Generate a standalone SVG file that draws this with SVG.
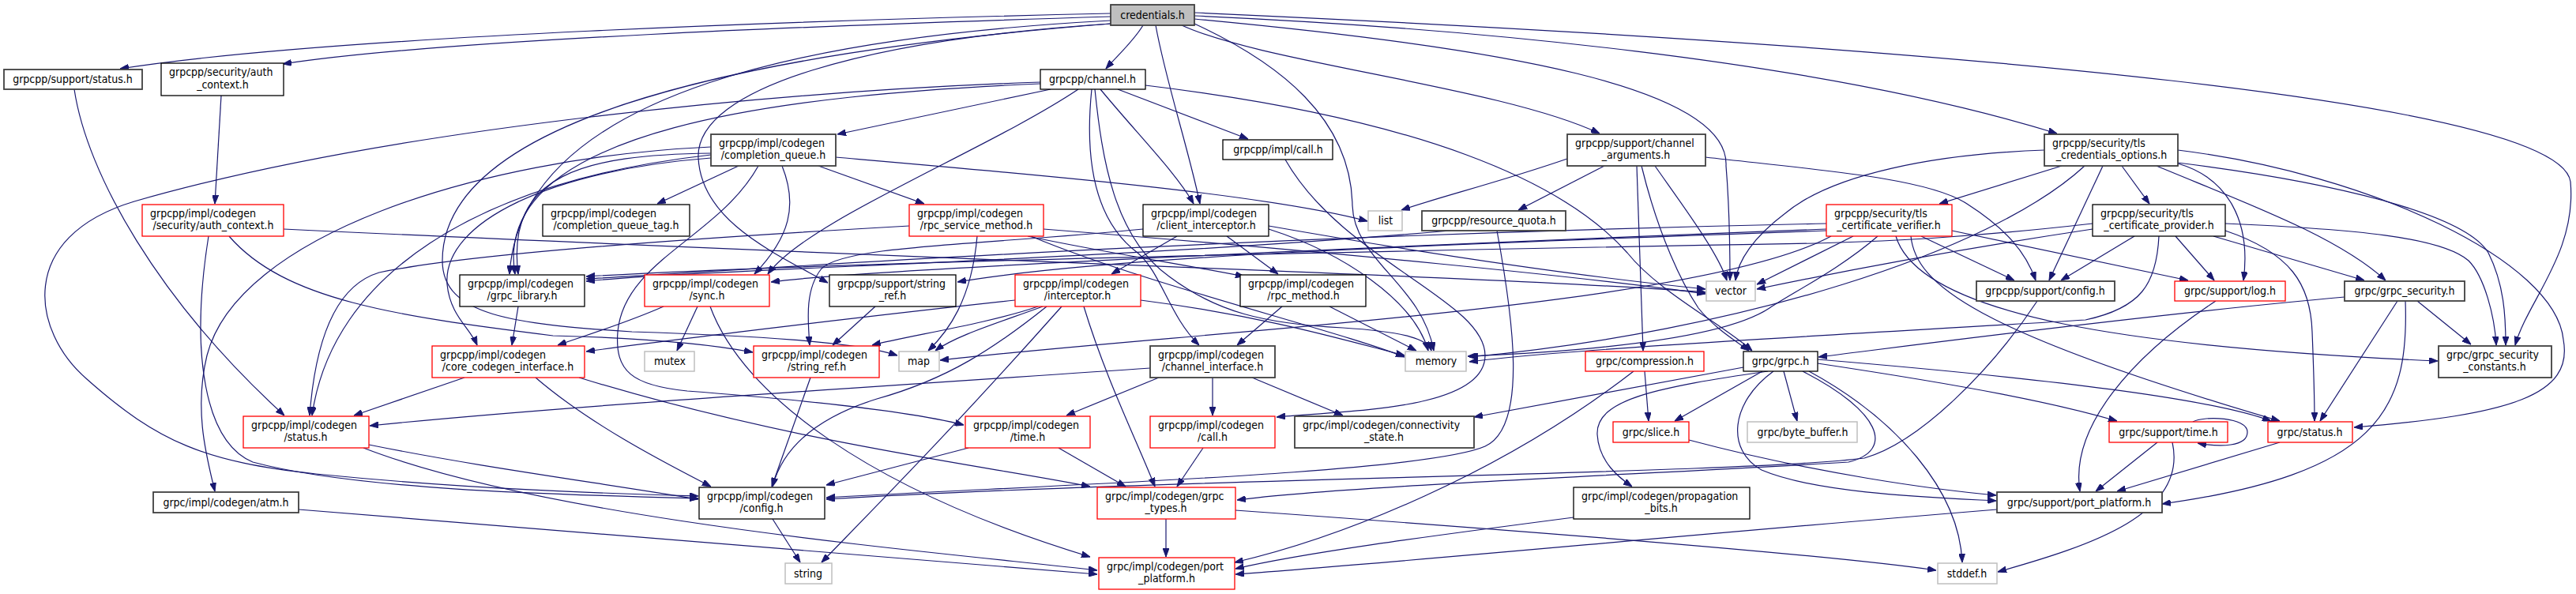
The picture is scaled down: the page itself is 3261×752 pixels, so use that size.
<svg xmlns="http://www.w3.org/2000/svg" width="3261" height="752" viewBox="0 0 3261 752">
<style>
text{font-family:"DejaVu Sans Condensed","Liberation Sans",sans-serif;font-size:14px;font-stretch:condensed;fill:#000}
.m{text-anchor:middle}
rect{fill:#fff;stroke-width:1.3}
.k rect{stroke:#000}
.g rect{stroke:#404040;stroke-width:1.8}
.r rect{stroke:#ff0000}
.l rect{stroke:#bfbfbf;stroke-width:1.5}
.root rect{fill:#bfbfbf;stroke:#404040;stroke-width:1.8}
#edges path{fill:none;stroke:#191970;stroke-width:1.2;marker-end:url(#ah)}
</style>
<defs>
<marker id="ah" markerUnits="userSpaceOnUse" markerWidth="11" markerHeight="8" refX="11" refY="4" orient="auto"><path d="M0,0 L11,4 L0,8 z" fill="#191970" stroke="#191970"/></marker>
</defs>
<rect x="0" y="0" width="3261" height="752" fill="#fff" stroke="none"/>
<g id="edges">
<path d="M1406,17 C1050,25 420,45 152,87"/>
<path d="M1406,21 C1050,32 560,50 358,81"/>
<path d="M1447,32 C1435,52 1415,70 1400,87"/>
<path d="M1463,32 C1475,100 1505,190 1519,258"/>
<path d="M1496,32 C1600,80 1900,110 2025,169"/>
<path d="M1512,20 C1850,35 2300,75 2604,169"/>
<path d="M1512,16 C2500,60 3240,130 3254,230 C3262,320 3200,380 3184,437"/>
<path d="M1406,26 C1050,45 660,110 645,347"/>
<path d="M1406,30 C900,70 560,160 560,330 C560,400 650,410 800,420 C950,425 1080,432 1136,450"/>
<path d="M1406,30 C1100,50 880,110 884,200 C888,280 980,320 1048,358"/>
<path d="M1512,30 C1620,80 1710,150 1712,260 C1714,330 1800,360 1815,444"/>
<path d="M1512,24 C1900,60 2190,110 2185,210 C2190,270 2190,320 2190,355"/>
<path d="M1330,113 L1060,170"/>
<path d="M1415,113 L1580,176"/>
<path d="M1393,113 C1440,170 1490,220 1511,258"/>
<path d="M1365,113 C1250,190 1020,280 972,347"/>
<path d="M1317,106 C1000,120 620,160 652,347"/>
<path d="M1317,104 C1000,115 500,160 170,255 C20,300 40,420 110,480 C200,560 260,585 400,600 C600,620 780,625 884,628"/>
<path d="M1382,113 C1370,230 1400,290 1440,320 C1470,345 1480,400 1518,437"/>
<path d="M1386,113 C1395,200 1410,300 1480,350 C1540,395 1600,410 1700,415 C1780,420 1808,430 1812,444"/>
<path d="M1450,108 C1800,150 1980,230 2060,320 C2100,370 2180,410 2218,444"/>
<path d="M935,210 L832,258"/>
<path d="M1036,210 L1170,258"/>
<path d="M1058,199 C1300,220 1600,245 1731,280"/>
<path d="M990,210 C1010,260 1000,300 955,347"/>
<path d="M900,194 C740,196 640,220 656,347"/>
<path d="M900,200 C700,215 560,280 566,360 C570,400 595,415 604,437"/>
<path d="M900,196 C600,230 420,350 395,526"/>
<path d="M900,186 C600,200 300,300 262,450 C245,520 262,580 272,622"/>
<path d="M960,210 C910,300 790,330 782,420 C778,470 800,488 870,495 C1000,505 1150,520 1220,538"/>
<path d="M1490,299 L1407,347"/>
<path d="M1553,299 L1618,347"/>
<path d="M1606,290 C1700,320 1790,380 1808,444"/>
<path d="M1606,286 C1800,320 2000,350 2159,366"/>
<path d="M1447,290 C1250,310 1070,310 1040,340 C1020,365 1022,400 1025,437"/>
<path d="M1237,299 C1230,380 1200,420 1175,444"/>
<path d="M1301,299 C1400,320 1500,335 1575,350"/>
<path d="M1305,299 C1450,360 1700,420 1778,452"/>
<path d="M1321,290 C1700,320 2000,350 2159,372"/>
<path d="M1151,286 C900,300 600,320 480,345 C430,360 400,420 392,526"/>
<path d="M1285,380 C1100,400 850,430 742,445"/>
<path d="M1314,388 C1250,410 1150,425 1104,437"/>
<path d="M1320,388 C1260,410 1210,425 1184,444"/>
<path d="M1325,388 C1260,440 1200,480 1110,505 C1030,530 990,570 978,616"/>
<path d="M1344,388 C1200,550 1100,650 1040,712"/>
<path d="M1372,388 C1400,480 1440,560 1462,616"/>
<path d="M1444,380 C1600,400 1700,430 1778,450"/>
<path d="M1683,388 L1793,444"/>
<path d="M1623,388 L1566,437"/>
<path d="M1467,478 L1350,526"/>
<path d="M1535,478 L1535,526"/>
<path d="M1585,478 L1700,526"/>
<path d="M1456,466 C1100,490 700,515 468,539"/>
<path d="M1226,567 L1046,614"/>
<path d="M1340,567 L1425,616"/>
<path d="M1523,567 L1490,616"/>
<path d="M1476,657 L1476,705"/>
<path d="M1564,646 C1900,670 2300,700 2451,722"/>
<path d="M978,657 L1013,712"/>
<path d="M467,563 C600,590 750,610 884,632"/>
<path d="M460,567 C700,660 1200,700 1389,722"/>
<path d="M378,645 C800,680 1200,710 1389,727"/>
<path d="M1992,655 C1800,680 1650,700 1564,720"/>
<path d="M2528,645 C2100,680 1800,710 1564,727"/>
<path d="M883,388 L857,444"/>
<path d="M840,388 C790,410 740,425 706,437"/>
<path d="M899,388 C940,500 1100,620 1380,705"/>
<path d="M656,388 L648,437"/>
<path d="M588,478 L448,526"/>
<path d="M678,478 C750,540 850,590 900,616"/>
<path d="M733,478 C1000,560 1250,590 1380,616"/>
<path d="M1108,388 L1054,437"/>
<path d="M1026,478 L977,616"/>
<path d="M359,290 C1200,330 1900,350 2159,370"/>
<path d="M264,299 C240,450 260,560 320,585 C450,620 700,626 884,631"/>
<path d="M290,299 C360,380 500,400 700,425 C820,428 900,436 953,446"/>
<path d="M94,113 C110,220 200,380 360,526"/>
<path d="M280,121 L272,258"/>
<path d="M1627,202 C1700,330 1880,380 1880,450 C1880,520 1700,520 1616,528"/>
<path d="M1984,201 C1900,230 1820,250 1774,266"/>
<path d="M2031,210 L1922,266"/>
<path d="M2072,210 L2080,444"/>
<path d="M2078,210 C2100,300 2130,360 2150,390 C2170,415 2195,430 2214,444"/>
<path d="M2095,210 C2130,260 2175,320 2186,355"/>
<path d="M2159,199 C2300,215 2440,225 2490,258 C2540,290 2565,320 2577,355"/>
<path d="M1836,292 C1400,330 900,340 742,356"/>
<path d="M1895,292 C1915,400 1935,540 1880,565 C1800,600 1300,615 1046,630"/>
<path d="M2082,470 L2087,533"/>
<path d="M2068,470 C1900,600 1700,680 1563,712"/>
<path d="M2207,465 L1866,528"/>
<path d="M2231,470 L2120,533"/>
<path d="M2238,470 C2100,490 2020,505 2022,550 C2024,585 2050,605 2066,616"/>
<path d="M2258,470 L2275,533"/>
<path d="M2282,470 C2380,520 2400,570 2340,585 C2100,600 1700,615 1566,633"/>
<path d="M2290,470 C2400,530 2480,620 2484,712"/>
<path d="M2301,460 C2500,490 2600,510 2680,533"/>
<path d="M2301,455 C2600,480 2800,505 2875,533"/>
<path d="M2245,470 C2190,510 2185,570 2230,595 C2300,625 2450,630 2527,634"/>
<path d="M2138,557 C2300,600 2450,620 2527,627"/>
<path d="M2968,376 C2700,400 2400,440 2302,452"/>
<path d="M3060,381 L3128,436"/>
<path d="M3035,381 L2937,533"/>
<path d="M3045,381 C3050,520 3010,600 2737,638"/>
<path d="M2805,381 C2700,450 2620,540 2633,622"/>
<path d="M2579,381 C2520,470 2430,560 2360,580 C2200,600 1500,605 1046,632"/>
<path d="M2731,560 L2653,622"/>
<path d="M2750,560 C2770,650 2650,690 2529,724"/>
<path d="M2776,534 C2790,526 2845,528 2845,547 C2845,566 2810,566 2782,561"/>
<path d="M2886,560 L2680,622"/>
<path d="M2610,210 L2455,258"/>
<path d="M2686,210 L2721,258"/>
<path d="M2662,210 L2594,355"/>
<path d="M2639,210 C2520,320 2200,420 1860,452"/>
<path d="M2588,190 C2450,195 2320,220 2260,270 C2220,300 2200,330 2197,355"/>
<path d="M2730,210 C2850,260 2960,300 3020,355"/>
<path d="M2757,207 C2820,225 2850,280 2840,355"/>
<path d="M2757,206 C2950,230 3120,270 3150,320 C3170,360 3172,400 3172,437"/>
<path d="M2757,190 C3000,220 3235,330 3245,430 C3258,500 3180,525 2980,541"/>
<path d="M2649,283 C2500,300 2400,305 2300,308 C1600,320 1000,335 742,350"/>
<path d="M2649,290 C2450,320 2300,350 2224,366"/>
<path d="M2702,299 L2609,355"/>
<path d="M2733,299 C2730,360 2710,390 2640,405 C2400,420 2000,440 1860,458"/>
<path d="M2754,299 L2803,355"/>
<path d="M2817,292 C2900,320 2925,360 2927,420 C2929,470 2930,500 2930,533"/>
<path d="M2802,299 L2993,355"/>
<path d="M2817,283 C2980,290 3090,300 3125,330 C3145,350 3158,400 3160,437"/>
<path d="M2312,283 C1500,300 900,345 742,353"/>
<path d="M2312,290 C1800,310 1100,340 976,357"/>
<path d="M2312,292 C1800,310 1400,325 1212,357"/>
<path d="M2318,299 C2150,390 1500,420 1190,456"/>
<path d="M2377,299 C2330,340 2270,370 2240,390 C2180,430 2000,445 1858,451"/>
<path d="M2346,299 L2224,360"/>
<path d="M2432,299 L2550,355"/>
<path d="M2471,292 C2600,320 2700,340 2770,355"/>
<path d="M2400,299 C2430,400 2700,440 3086,457"/>
<path d="M2419,299 C2425,360 2500,420 2886,533"/>
</g>
<g id="n_credentials" class="root"><rect x="1406" y="6" width="106" height="26"/><text class="m" x="1459" y="24">credentials.h</text></g>
<g id="n_sup_status" class="g"><rect x="5" y="88" width="175" height="25"/><text class="m" x="92" y="105">grpcpp/support/status.h</text></g>
<g id="n_sec_auth" class="k"><rect x="204" y="80" width="155" height="41"/><text x="214" y="96">grpcpp/security/auth</text><text class="m" x="282" y="112">_context.h</text></g>
<g id="n_cg_auth" class="r"><rect x="180" y="259" width="179" height="40"/><text x="190" y="275">grpcpp/impl/codegen</text><text class="m" x="270" y="290">/security/auth_context.h</text></g>
<g id="n_channel" class="k"><rect x="1317" y="88" width="133" height="25"/><text class="m" x="1383" y="105">grpcpp/channel.h</text></g>
<g id="n_cq" class="g"><rect x="900" y="170" width="158" height="40"/><text x="910" y="186">grpcpp/impl/codegen</text><text class="m" x="979" y="201">/completion_queue.h</text></g>
<g id="n_impl_call" class="k"><rect x="1548" y="177" width="139" height="25"/><text class="m" x="1618" y="194">grpcpp/impl/call.h</text></g>
<g id="n_chan_args" class="g"><rect x="1984" y="170" width="175" height="40"/><text x="1994" y="186">grpcpp/support/channel</text><text class="m" x="2071" y="201">_arguments.h</text></g>
<g id="n_tls_opts" class="g"><rect x="2588" y="170" width="169" height="40"/><text x="2598" y="186">grpcpp/security/tls</text><text class="m" x="2673" y="201">_credentials_options.h</text></g>
<g id="n_cq_tag" class="k"><rect x="687" y="259" width="186" height="40"/><text x="697" y="275">grpcpp/impl/codegen</text><text class="m" x="780" y="290">/completion_queue_tag.h</text></g>
<g id="n_rpc_svc" class="r"><rect x="1151" y="259" width="170" height="40"/><text x="1161" y="275">grpcpp/impl/codegen</text><text class="m" x="1236" y="290">/rpc_service_method.h</text></g>
<g id="n_client_int" class="k"><rect x="1447" y="259" width="159" height="40"/><text x="1457" y="275">grpcpp/impl/codegen</text><text class="m" x="1527" y="290">/client_interceptor.h</text></g>
<g id="n_list" class="l"><rect x="1732" y="267" width="43" height="25"/><text class="m" x="1754" y="284">list</text></g>
<g id="n_res_quota" class="g"><rect x="1800" y="267" width="182" height="25"/><text class="m" x="1891" y="284">grpcpp/resource_quota.h</text></g>
<g id="n_verifier" class="r"><rect x="2312" y="259" width="159" height="40"/><text x="2322" y="275">grpcpp/security/tls</text><text class="m" x="2391" y="290">_certificate_verifier.h</text></g>
<g id="n_provider" class="k"><rect x="2649" y="259" width="168" height="40"/><text x="2659" y="275">grpcpp/security/tls</text><text class="m" x="2733" y="290">_certificate_provider.h</text></g>
<g id="n_grpc_lib" class="k"><rect x="582" y="348" width="158" height="40"/><text x="592" y="364">grpcpp/impl/codegen</text><text class="m" x="661" y="379">/grpc_library.h</text></g>
<g id="n_sync" class="r"><rect x="816" y="348" width="158" height="40"/><text x="826" y="364">grpcpp/impl/codegen</text><text class="m" x="895" y="379">/sync.h</text></g>
<g id="n_sup_strref" class="k"><rect x="1050" y="348" width="160" height="40"/><text x="1060" y="364">grpcpp/support/string</text><text class="m" x="1130" y="379">_ref.h</text></g>
<g id="n_interceptor" class="r"><rect x="1285" y="348" width="159" height="40"/><text x="1295" y="364">grpcpp/impl/codegen</text><text class="m" x="1364" y="379">/interceptor.h</text></g>
<g id="n_rpc_method" class="k"><rect x="1570" y="348" width="159" height="40"/><text x="1580" y="364">grpcpp/impl/codegen</text><text class="m" x="1650" y="379">/rpc_method.h</text></g>
<g id="n_vector" class="l"><rect x="2160" y="356" width="62" height="25"/><text class="m" x="2191" y="373">vector</text></g>
<g id="n_sup_config" class="g"><rect x="2502" y="356" width="175" height="25"/><text class="m" x="2589" y="373">grpcpp/support/config.h</text></g>
<g id="n_log" class="r"><rect x="2753" y="356" width="140" height="25"/><text class="m" x="2823" y="373">grpc/support/log.h</text></g>
<g id="n_grpc_sec" class="g"><rect x="2968" y="356" width="152" height="25"/><text class="m" x="3044" y="373">grpc/grpc_security.h</text></g>
<g id="n_mutex" class="l"><rect x="816" y="445" width="63" height="25"/><text class="m" x="848" y="462">mutex</text></g>
<g id="n_cg_strref" class="r"><rect x="954" y="438" width="159" height="40"/><text x="964" y="454">grpcpp/impl/codegen</text><text class="m" x="1034" y="469">/string_ref.h</text></g>
<g id="n_map" class="l"><rect x="1138" y="445" width="51" height="25"/><text class="m" x="1163" y="462">map</text></g>
<g id="n_memory" class="l"><rect x="1779" y="445" width="77" height="25"/><text class="m" x="1818" y="462">memory</text></g>
<g id="n_compression" class="r"><rect x="2007" y="445" width="150" height="25"/><text class="m" x="2082" y="462">grpc/compression.h</text></g>
<g id="n_grpc_h" class="k"><rect x="2207" y="445" width="94" height="25"/><text class="m" x="2254" y="462">grpc/grpc.h</text></g>
<g id="n_sec_const" class="g"><rect x="3087" y="438" width="143" height="40"/><text x="3097" y="454">grpc/grpc_security</text><text class="m" x="3158" y="469">_constants.h</text></g>
<g id="n_core_cg" class="r"><rect x="547" y="438" width="193" height="40"/><text x="557" y="454">grpcpp/impl/codegen</text><text class="m" x="643" y="469">/core_codegen_interface.h</text></g>
<g id="n_chan_if" class="g"><rect x="1456" y="438" width="158" height="40"/><text x="1466" y="454">grpcpp/impl/codegen</text><text class="m" x="1535" y="469">/channel_interface.h</text></g>
<g id="n_cg_status" class="r"><rect x="308" y="527" width="159" height="40"/><text x="318" y="543">grpcpp/impl/codegen</text><text class="m" x="387" y="558">/status.h</text></g>
<g id="n_cg_time" class="r"><rect x="1222" y="527" width="158" height="40"/><text x="1232" y="543">grpcpp/impl/codegen</text><text class="m" x="1301" y="558">/time.h</text></g>
<g id="n_cg_call" class="r"><rect x="1456" y="527" width="158" height="40"/><text x="1466" y="543">grpcpp/impl/codegen</text><text class="m" x="1535" y="558">/call.h</text></g>
<g id="n_conn_state" class="g"><rect x="1639" y="527" width="227" height="40"/><text x="1649" y="543">grpc/impl/codegen/connectivity</text><text class="m" x="1752" y="558">_state.h</text></g>
<g id="n_slice" class="r"><rect x="2042" y="534" width="96" height="26"/><text class="m" x="2090" y="552">grpc/slice.h</text></g>
<g id="n_byte_buffer" class="l"><rect x="2212" y="534" width="139" height="26"/><text class="m" x="2282" y="552">grpc/byte_buffer.h</text></g>
<g id="n_sup_time" class="r"><rect x="2670" y="534" width="150" height="26"/><text class="m" x="2745" y="552">grpc/support/time.h</text></g>
<g id="n_grpc_status" class="r"><rect x="2871" y="534" width="107" height="26"/><text class="m" x="2924" y="552">grpc/status.h</text></g>
<g id="n_cg_config" class="k"><rect x="885" y="617" width="159" height="40"/><text x="895" y="633">grpcpp/impl/codegen</text><text class="m" x="964" y="648">/config.h</text></g>
<g id="n_atm" class="g"><rect x="194" y="623" width="184" height="26"/><text class="m" x="286" y="641">grpc/impl/codegen/atm.h</text></g>
<g id="n_grpc_types" class="r"><rect x="1389" y="617" width="175" height="40"/><text x="1399" y="633">grpc/impl/codegen/grpc</text><text class="m" x="1476" y="648">_types.h</text></g>
<g id="n_prop_bits" class="k"><rect x="1992" y="617" width="223" height="40"/><text x="2002" y="633">grpc/impl/codegen/propagation</text><text class="m" x="2103" y="648">_bits.h</text></g>
<g id="n_sup_pp" class="g"><rect x="2528" y="623" width="209" height="26"/><text class="m" x="2632" y="641">grpc/support/port_platform.h</text></g>
<g id="n_string" class="l"><rect x="994" y="713" width="59" height="26"/><text class="m" x="1023" y="731">string</text></g>
<g id="n_cg_pp" class="r"><rect x="1391" y="706" width="172" height="40"/><text x="1401" y="722">grpc/impl/codegen/port</text><text class="m" x="1477" y="737">_platform.h</text></g>
<g id="n_stddef" class="l"><rect x="2453" y="713" width="75" height="26"/><text class="m" x="2490" y="731">stddef.h</text></g>
</svg>
